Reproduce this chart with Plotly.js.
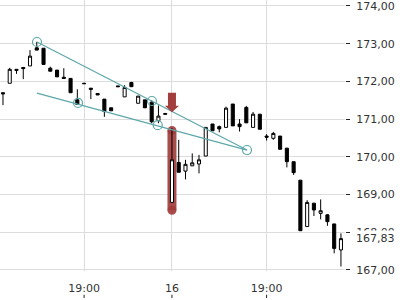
<!DOCTYPE html>
<html>
<head>
<meta charset="utf-8">
<script src="https://cdn.plot.ly/plotly-3.0.1.min.js"></script>
<style>html,body{margin:0;padding:0;background:#fff}#chart{width:400px;height:300px}</style>
</head>
<body>
<div id="chart"></div>
<script>
// candle index (ordinal, trading periods)
var idx = [0,1,2,3,4,5,6,7,8,9,10,11,12,13,14,15,16,17,18,19,20,21,22,23,24,25,26,27,28,29,30,31,32,33,34,35,36,37,38,39,40,41,42,43,44,45,46,47,48,49,50];
var openV  = [171.70,171.95,172.32,172.37,172.41,172.89,172.88,172.35,172.30,172.11,172.08,171.51,171.95,171.82,171.68,171.53,171.30,171.88,171.59,171.97,171.42,171.51,171.45,170.96,171.15,168.79,169.85,169.62,169.76,169.81,170.02,170.87,170.80,170.78,171.40,170.87,171.31,170.78,171.13,170.55,170.49,170.55,170.23,169.87,169.38,168.15,168.77,168.50,168.46,168.22,167.53];
var highV  = [171.70,172.36,172.32,172.37,172.83,173.05,172.88,172.39,172.30,172.35,172.08,171.79,171.96,171.82,171.68,171.53,171.30,171.88,171.90,171.99,171.61,171.51,171.50,171.36,171.15,170.76,170.45,169.92,170.09,170.05,170.78,170.87,170.83,171.33,171.40,171.00,171.35,171.19,171.13,170.60,170.66,170.55,170.23,169.87,169.38,168.85,168.77,168.87,168.48,168.22,167.97];
var lowV   = [171.37,171.95,172.20,172.06,172.41,172.83,172.45,172.27,172.12,172.08,171.70,171.39,171.94,171.53,171.64,171.06,171.22,171.86,171.59,171.86,171.42,171.30,170.89,170.89,171.13,168.79,169.59,169.40,169.76,169.56,170.02,170.69,170.65,170.78,170.82,170.67,170.90,170.78,170.73,170.43,170.45,170.20,169.72,169.52,168.04,168.15,168.43,168.34,168.17,167.44,167.09];
var closeV = [171.67,172.32,172.29,172.34,172.67,172.83,172.45,172.27,172.12,172.08,171.70,171.39,171.94,171.79,171.64,171.20,171.22,171.86,171.84,171.86,171.61,171.30,170.93,171.08,171.13,169.92,169.59,169.80,169.84,169.92,170.78,170.69,170.74,171.29,170.82,170.80,170.90,171.13,170.73,170.52,170.62,170.20,169.87,169.58,168.04,168.79,168.59,168.57,168.28,167.57,167.83];

// x tick labels
var tickPos = [12, 25, 39];
var tickLab = ['19:00', '16', '19:00'];
var yTicks = [167,168,169,170,171,172,173,174];
var lastPrice = 167.83;

// drawn trend lines (pattern annotation)
var upperX = [5.03, 22.04, 36.1];
var upperY = [173.045, 171.48, 170.18];
var lowerLineX = [5.03, 36.1];
var lowerLineY = [171.69, 170.18];
var lowerPtsX = [11.1, 22.9];
var lowerPtsY = [171.43, 170.84];

// signal marker (red)
var signalIdx = 25;
var signalBarTop = 170.70, signalBarBottom = 168.58;
var signalArrowTip = 171.18;

var teal = 'rgb(95,168,170)';
var red = 'rgb(162,62,60)';

var traces = [
  {type:'candlestick', x: idx, open: openV, high: highV, low: lowV, close: closeV,
   increasing:{line:{color:'#000', width:1}, fillcolor:'#fff'},
   decreasing:{line:{color:'#000', width:1}, fillcolor:'#000'},
   whiskerwidth:0, hoverinfo:'skip', showlegend:false},
  {type:'scatter', mode:'lines', x:[upperX[0], upperX[2]], y:[upperY[0], upperY[2]],
   line:{color:teal, width:1.3}, hoverinfo:'skip', showlegend:false},
  {type:'scatter', mode:'lines', x:lowerLineX, y:lowerLineY,
   line:{color:teal, width:1.3}, hoverinfo:'skip', showlegend:false},
  {type:'scatter', mode:'markers', x:upperX.concat(lowerPtsX), y:upperY.concat(lowerPtsY),
   marker:{symbol:'circle-open', size:9, color:teal, line:{width:1.2, color:teal}},
   hoverinfo:'skip', showlegend:false}
];

var shapes = [
  {type:'rect', layer:'between', xref:'x', yref:'y', xsizemode:'pixel', xanchor:signalIdx,
   x0:-4.5, x1:4.5, y0:signalBarBottom, y1:signalBarTop, fillcolor:red, opacity:0.92, line:{width:0}},
  {type:'circle', layer:'between', xref:'x', yref:'y', xsizemode:'pixel', ysizemode:'pixel',
   xanchor:signalIdx, yanchor:signalBarTop, x0:-4.5, x1:4.5, y0:-4.5, y1:4.5, fillcolor:red, opacity:0.92, line:{width:0}},
  {type:'circle', layer:'between', xref:'x', yref:'y', xsizemode:'pixel', ysizemode:'pixel',
   xanchor:signalIdx, yanchor:signalBarBottom, x0:-4.5, x1:4.5, y0:-4.5, y1:4.5, fillcolor:red, opacity:0.92, line:{width:0}},
  {type:'path', layer:'above', xref:'x', yref:'y', xsizemode:'pixel', ysizemode:'pixel',
   xanchor:signalIdx, yanchor:signalArrowTip,
   path:'M -7 6.5 L -4 6.5 L -4 19.5 L 4 19.5 L 4 6.5 L 7 6.5 L 0 0 Z', fillcolor:red, line:{width:0}}
];
tickPos.forEach(function(p){
  shapes.push({type:'line', xref:'x', yref:'paper', x0:p, x1:p, y0:0, y1:0.011, line:{color:'#222', width:1}});
});

var layout = {
  width:400, height:300,
  margin:{l:0, r:55, t:0, b:2},
  paper_bgcolor:'#fff', plot_bgcolor:'#fff',
  separators:',.',
  font:{family:'DejaVu Sans, sans-serif', size:11, color:'#333'},
  boxgap:0.35,
  xaxis:{range:[-0.44, 50.6], tickvals:tickPos, ticktext:tickLab, showgrid:true, gridcolor:'#dcdcdc', gridwidth:1,
         zeroline:false, showline:false, ticks:'', ticklabelstandoff:9, rangeslider:{visible:false}, fixedrange:true},
  yaxis:{side:'right', range:[166.971, 174.159], domain:[0.0906, 1], tickvals:yTicks, tickformat:'.2f',
         showgrid:true, gridcolor:'#dcdcdc', gridwidth:1, zeroline:false, showline:false,
         ticks:'outside', ticklen:4, tickcolor:'#222', ticklabelstandoff:4, ticklabeloverflow:'allow',
         fixedrange:true},
  shapes:shapes,
  annotations:[{xref:'paper', yref:'y', x:1, y:lastPrice, xanchor:'left', yanchor:'middle', xshift:9,
                text:'167,83', showarrow:false, bgcolor:'#fff', borderpad:1, font:{size:11, color:'#333'}}]
};

Plotly.newPlot('chart', traces, layout, {displayModeBar:false, staticPlot:true});
</script>
</body>
</html>
